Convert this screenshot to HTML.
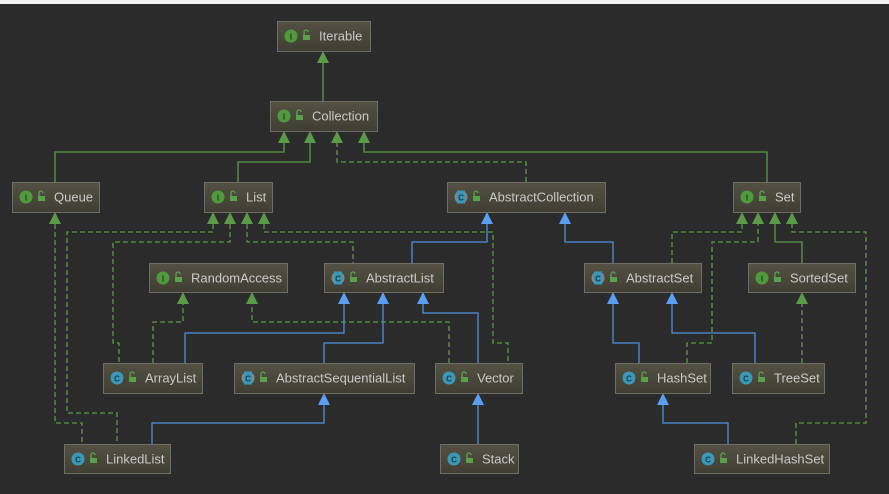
<!DOCTYPE html>
<html><head><meta charset="utf-8"><style>
html,body{margin:0;padding:0;background:#2b2b2b;}
body{width:889px;height:494px;overflow:hidden;}
svg{display:block;}
text{font-family:"Liberation Sans","DejaVu Sans",sans-serif;}
</style></head><body>
<svg width="889" height="494" viewBox="0 0 889 494" xmlns="http://www.w3.org/2000/svg">
<defs>
<linearGradient id="bg" x1="0" y1="0" x2="0" y2="1">
<stop offset="0" stop-color="#545143"/><stop offset="1" stop-color="#403e33"/>
</linearGradient>
<g id="lock"><rect x="-1" y="-1" width="7" height="5" fill="#5aa24a"/><path d="M0,-1 v-3 a2,2 0 0 1 4,0" fill="none" stroke="#5aa24a" stroke-width="1.3"/></g>
</defs>
<rect x="0" y="0" width="889" height="494" fill="#2b2b2b"/>
<rect x="0" y="0" width="889" height="4" fill="#f2f2f2"/>

<g fill="none" stroke="#5a9a48" stroke-width="1.3">
<path d="M323,101V63"/>
<path d="M55,182V152H284V143"/>
<path d="M238,182V162H310V143"/>
<path d="M767,182V152H364V143"/>
<path d="M802,263V242H775V224"/>
</g>
<g fill="none" stroke="#5a9a48" stroke-width="1.3" stroke-dasharray="5,3">
<path d="M526,182V162H337V143"/>
<path d="M213,224V232H67V413H117V444"/>
<path d="M55,224V423H82V444"/>
<path d="M230,224V242H113V343H119V363"/>
<path d="M247,224V242H353V263"/>
<path d="M264,224V232H493V343H508V363"/>
<path d="M672,263V232H742V224"/>
<path d="M687,363V343H712V242H758V224"/>
<path d="M796,444V423H866V232H792V224"/>
<path d="M802,363V304"/>
<path d="M449,363V322H252V304"/>
<path d="M153,363V322H183V304"/>
</g>
<g fill="none" stroke="#4f8fe0" stroke-width="1.3">
<path d="M412,263V242H487V224"/>
<path d="M613,263V242H565V224"/>
<path d="M639,363V343H613V304"/>
<path d="M755,363V333H672V304"/>
<path d="M728,444V423H663V405"/>
<path d="M478,444V405"/>
<path d="M478,363V313H423V304"/>
<path d="M324,363V343H383V304"/>
<path d="M185,363V333H344V304"/>
<path d="M152,444V423H324V405"/>
</g>
<g fill="#5a9a48">
<polygon points="323,51 317,63 329,63"/>
<polygon points="284,131 278,143 290,143"/>
<polygon points="310,131 304,143 316,143"/>
<polygon points="337,131 331,143 343,143"/>
<polygon points="364,131 358,143 370,143"/>
<polygon points="55,212 49,224 61,224"/>
<polygon points="213,212 207,224 219,224"/>
<polygon points="230,212 224,224 236,224"/>
<polygon points="247,212 241,224 253,224"/>
<polygon points="264,212 258,224 270,224"/>
<polygon points="742,212 736,224 748,224"/>
<polygon points="758,212 752,224 764,224"/>
<polygon points="775,212 769,224 781,224"/>
<polygon points="792,212 786,224 798,224"/>
<polygon points="183,292 177,304 189,304"/>
<polygon points="252,292 246,304 258,304"/>
<polygon points="802,292 796,304 808,304"/>
</g>
<g fill="#5a9ef2">
<polygon points="487,212 481,224 493,224"/>
<polygon points="565,212 559,224 571,224"/>
<polygon points="344,292 338,304 350,304"/>
<polygon points="383,292 377,304 389,304"/>
<polygon points="423,292 417,304 429,304"/>
<polygon points="613,292 607,304 619,304"/>
<polygon points="672,292 666,304 678,304"/>
<polygon points="324,393 318,405 330,405"/>
<polygon points="478,393 472,405 484,405"/>
<polygon points="663,393 657,405 669,405"/>
</g>

<g font-size="13" fill="#c9c9c9">
<g transform="translate(277,21)"><rect x="0.5" y="0.5" width="93" height="30" fill="url(#bg)" stroke="#6e6e66"/><circle cx="14" cy="15" r="6.5" fill="#4e9a3c"/><text x="14" y="18.5" font-size="8" fill="#2b3a22" text-anchor="middle" font-weight="bold">I</text><use href="#lock" x="27" y="15"/><text x="42" y="19.5">Iterable</text></g>
<g transform="translate(270,101)"><rect x="0.5" y="0.5" width="107" height="30" fill="url(#bg)" stroke="#6e6e66"/><circle cx="14" cy="15" r="6.5" fill="#4e9a3c"/><text x="14" y="18.5" font-size="8" fill="#2b3a22" text-anchor="middle" font-weight="bold">I</text><use href="#lock" x="27" y="15"/><text x="42" y="19.5">Collection</text></g>
<g transform="translate(12,182)"><rect x="0.5" y="0.5" width="87" height="30" fill="url(#bg)" stroke="#6e6e66"/><circle cx="14" cy="15" r="6.5" fill="#4e9a3c"/><text x="14" y="18.5" font-size="8" fill="#2b3a22" text-anchor="middle" font-weight="bold">I</text><use href="#lock" x="27" y="15"/><text x="42" y="19.5">Queue</text></g>
<g transform="translate(204,182)"><rect x="0.5" y="0.5" width="68" height="30" fill="url(#bg)" stroke="#6e6e66"/><circle cx="14" cy="15" r="6.5" fill="#4e9a3c"/><text x="14" y="18.5" font-size="8" fill="#2b3a22" text-anchor="middle" font-weight="bold">I</text><use href="#lock" x="27" y="15"/><text x="42" y="19.5">List</text></g>
<g transform="translate(447,182)"><rect x="0.5" y="0.5" width="158" height="30" fill="url(#bg)" stroke="#6e6e66"/><circle cx="14" cy="15" r="6.5" fill="#7a8a90"/><rect x="10" y="8.5" width="8" height="13" fill="#3a98b8"/><text x="14" y="18.5" font-size="8" fill="#1d3a44" text-anchor="middle" font-weight="bold">C</text><use href="#lock" x="27" y="15"/><text x="42" y="19.5">AbstractCollection</text></g>
<g transform="translate(733,182)"><rect x="0.5" y="0.5" width="67" height="30" fill="url(#bg)" stroke="#6e6e66"/><circle cx="14" cy="15" r="6.5" fill="#4e9a3c"/><text x="14" y="18.5" font-size="8" fill="#2b3a22" text-anchor="middle" font-weight="bold">I</text><use href="#lock" x="27" y="15"/><text x="42" y="19.5">Set</text></g>
<g transform="translate(149,263)"><rect x="0.5" y="0.5" width="138" height="29" fill="url(#bg)" stroke="#6e6e66"/><circle cx="14" cy="15" r="6.5" fill="#4e9a3c"/><text x="14" y="18.5" font-size="8" fill="#2b3a22" text-anchor="middle" font-weight="bold">I</text><use href="#lock" x="27" y="15"/><text x="42" y="19.5">RandomAccess</text></g>
<g transform="translate(324,263)"><rect x="0.5" y="0.5" width="119" height="29" fill="url(#bg)" stroke="#6e6e66"/><circle cx="14" cy="15" r="6.5" fill="#7a8a90"/><rect x="10" y="8.5" width="8" height="13" fill="#3a98b8"/><text x="14" y="18.5" font-size="8" fill="#1d3a44" text-anchor="middle" font-weight="bold">C</text><use href="#lock" x="27" y="15"/><text x="42" y="19.5">AbstractList</text></g>
<g transform="translate(584,263)"><rect x="0.5" y="0.5" width="117" height="29" fill="url(#bg)" stroke="#6e6e66"/><circle cx="14" cy="15" r="6.5" fill="#7a8a90"/><rect x="10" y="8.5" width="8" height="13" fill="#3a98b8"/><text x="14" y="18.5" font-size="8" fill="#1d3a44" text-anchor="middle" font-weight="bold">C</text><use href="#lock" x="27" y="15"/><text x="42" y="19.5">AbstractSet</text></g>
<g transform="translate(748,263)"><rect x="0.5" y="0.5" width="107" height="29" fill="url(#bg)" stroke="#6e6e66"/><circle cx="14" cy="15" r="6.5" fill="#4e9a3c"/><text x="14" y="18.5" font-size="8" fill="#2b3a22" text-anchor="middle" font-weight="bold">I</text><use href="#lock" x="27" y="15"/><text x="42" y="19.5">SortedSet</text></g>
<g transform="translate(103,363)"><rect x="0.5" y="0.5" width="99" height="30" fill="url(#bg)" stroke="#6e6e66"/><circle cx="14" cy="15" r="6.5" fill="#3a98b8"/><text x="14" y="18.5" font-size="8" fill="#1d3a44" text-anchor="middle" font-weight="bold">C</text><use href="#lock" x="27" y="15"/><text x="42" y="19.5">ArrayList</text></g>
<g transform="translate(234,363)"><rect x="0.5" y="0.5" width="180" height="30" fill="url(#bg)" stroke="#6e6e66"/><circle cx="14" cy="15" r="6.5" fill="#7a8a90"/><rect x="10" y="8.5" width="8" height="13" fill="#3a98b8"/><text x="14" y="18.5" font-size="8" fill="#1d3a44" text-anchor="middle" font-weight="bold">C</text><use href="#lock" x="27" y="15"/><text x="42" y="19.5">AbstractSequentialList</text></g>
<g transform="translate(435,363)"><rect x="0.5" y="0.5" width="87" height="30" fill="url(#bg)" stroke="#6e6e66"/><circle cx="14" cy="15" r="6.5" fill="#3a98b8"/><text x="14" y="18.5" font-size="8" fill="#1d3a44" text-anchor="middle" font-weight="bold">C</text><use href="#lock" x="27" y="15"/><text x="42" y="19.5">Vector</text></g>
<g transform="translate(615,363)"><rect x="0.5" y="0.5" width="95" height="30" fill="url(#bg)" stroke="#6e6e66"/><circle cx="14" cy="15" r="6.5" fill="#3a98b8"/><text x="14" y="18.5" font-size="8" fill="#1d3a44" text-anchor="middle" font-weight="bold">C</text><use href="#lock" x="27" y="15"/><text x="42" y="19.5">HashSet</text></g>
<g transform="translate(732,363)"><rect x="0.5" y="0.5" width="92" height="30" fill="url(#bg)" stroke="#6e6e66"/><circle cx="14" cy="15" r="6.5" fill="#3a98b8"/><text x="14" y="18.5" font-size="8" fill="#1d3a44" text-anchor="middle" font-weight="bold">C</text><use href="#lock" x="27" y="15"/><text x="42" y="19.5">TreeSet</text></g>
<g transform="translate(64,444)"><rect x="0.5" y="0.5" width="106" height="29" fill="url(#bg)" stroke="#6e6e66"/><circle cx="14" cy="15" r="6.5" fill="#3a98b8"/><text x="14" y="18.5" font-size="8" fill="#1d3a44" text-anchor="middle" font-weight="bold">C</text><use href="#lock" x="27" y="15"/><text x="42" y="19.5">LinkedList</text></g>
<g transform="translate(440,444)"><rect x="0.5" y="0.5" width="78" height="29" fill="url(#bg)" stroke="#6e6e66"/><circle cx="14" cy="15" r="6.5" fill="#3a98b8"/><text x="14" y="18.5" font-size="8" fill="#1d3a44" text-anchor="middle" font-weight="bold">C</text><use href="#lock" x="27" y="15"/><text x="42" y="19.5">Stack</text></g>
<g transform="translate(694,444)"><rect x="0.5" y="0.5" width="135" height="29" fill="url(#bg)" stroke="#6e6e66"/><circle cx="14" cy="15" r="6.5" fill="#3a98b8"/><text x="14" y="18.5" font-size="8" fill="#1d3a44" text-anchor="middle" font-weight="bold">C</text><use href="#lock" x="27" y="15"/><text x="42" y="19.5">LinkedHashSet</text></g>
</g>
</svg>
</body></html>
